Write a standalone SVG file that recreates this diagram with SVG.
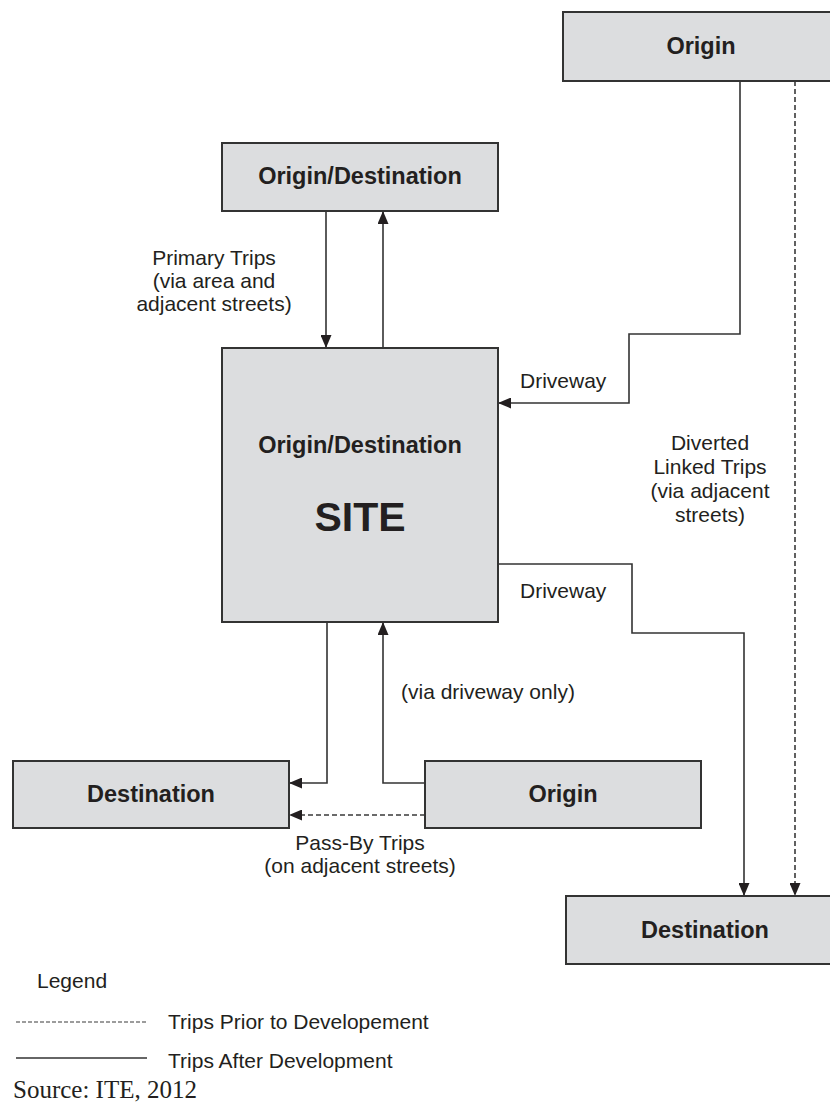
<svg xmlns="http://www.w3.org/2000/svg" width="830" height="1105" viewBox="0 0 830 1105">
  <style>
    .box { fill: #dcdddf; stroke: #333333; stroke-width: 2; }
    .lbl { font-family: "Liberation Sans", Arial, sans-serif; font-weight: bold; font-size: 23.5px; fill: #231f20; text-anchor: middle; }
    .txt { font-family: "Liberation Sans", Arial, sans-serif; font-size: 21px; fill: #231f20; }
    .mid { text-anchor: middle; }
    .solid { fill: none; stroke: #333333; stroke-width: 1.6; }
    .dash { fill: none; stroke: #3a3a3a; stroke-width: 1.6; stroke-dasharray: 5 3; }
  </style>
  <defs>
    <marker id="arrow" viewBox="0 0 13 11" refX="13" refY="5.5" markerWidth="13" markerHeight="11" markerUnits="userSpaceOnUse" orient="auto">
      <path d="M0,0 L13,5.5 L0,11 z" fill="#231f20"/>
    </marker>
  </defs>

  <rect width="830" height="1105" fill="#ffffff"/>

  <!-- connectors -->
  <g id="connectors">
    <!-- primary trips -->
    <line class="solid" x1="326" y1="211" x2="326" y2="348" marker-end="url(#arrow)"/>
    <line class="solid" x1="383" y1="348" x2="383" y2="211" marker-end="url(#arrow)"/>
    <!-- diverted linked trips, after development -->
    <polyline class="solid" points="740,81 740,334 629,334 629,403 498,403" marker-end="url(#arrow)"/>
    <polyline class="solid" points="498,564 632,564 632,633 744,633 744,896" marker-end="url(#arrow)"/>
    <!-- diverted linked trips, prior to development -->
    <line class="dash" x1="795" y1="81" x2="795" y2="896" marker-end="url(#arrow)"/>
    <!-- pass-by trips -->
    <polyline class="solid" points="327,622 327,783 289,783" marker-end="url(#arrow)"/>
    <polyline class="solid" points="425,783 383,783 383,622" marker-end="url(#arrow)"/>
    <line class="dash" x1="425" y1="815" x2="289" y2="815" marker-end="url(#arrow)"/>
  </g>

  <!-- nodes -->
  <g id="origin-top">
    <rect class="box" x="563" y="12" width="280" height="69"/>
    <text class="lbl" x="701" y="54">Origin</text>
  </g>
  <g id="od-top">
    <rect class="box" x="222" y="143" width="276" height="68"/>
    <text class="lbl" x="360" y="184">Origin/Destination</text>
  </g>
  <g id="site">
    <rect class="box" x="222" y="348" width="276" height="274"/>
    <text class="lbl" x="360" y="453">Origin/Destination</text>
    <text class="lbl" x="360" y="531" style="font-size:41px">SITE</text>
  </g>
  <g id="destination-left">
    <rect class="box" x="13" y="761" width="276" height="67"/>
    <text class="lbl" x="151" y="802">Destination</text>
  </g>
  <g id="origin-bottom">
    <rect class="box" x="425" y="761" width="276" height="67"/>
    <text class="lbl" x="563" y="802">Origin</text>
  </g>
  <g id="destination-right">
    <rect class="box" x="566" y="896" width="280" height="68"/>
    <text class="lbl" x="705" y="938">Destination</text>
  </g>

  <!-- connector labels -->
  <g id="labels">
    <text class="txt mid" x="214" y="265">Primary Trips</text>
    <text class="txt mid" x="214" y="288">(via area and</text>
    <text class="txt mid" x="214" y="311">adjacent streets)</text>

    <text class="txt" x="520" y="388">Driveway</text>
    <text class="txt" x="520" y="598">Driveway</text>

    <text class="txt mid" x="710" y="450">Diverted</text>
    <text class="txt mid" x="710" y="474">Linked Trips</text>
    <text class="txt mid" x="710" y="498">(via adjacent</text>
    <text class="txt mid" x="710" y="522">streets)</text>

    <text class="txt" x="401" y="699">(via driveway only)</text>

    <text class="txt mid" x="360" y="850">Pass-By Trips</text>
    <text class="txt mid" x="360" y="873">(on adjacent streets)</text>
  </g>

  <!-- legend -->
  <g id="legend">
    <text class="txt" x="37" y="988">Legend</text>
    <line class="dash" x1="16" y1="1022" x2="147" y2="1022" style="stroke-width:1.2;stroke-dasharray:4 2"/>
    <text class="txt" x="168" y="1029">Trips Prior to Developement</text>
    <line class="solid" x1="16" y1="1058" x2="147" y2="1058"/>
    <text class="txt" x="168" y="1068">Trips After Development</text>
    <text x="13" y="1098" style="font-family:'Liberation Serif','Times New Roman',serif;font-size:25px;fill:#231f20">Source: ITE, 2012</text>
  </g>
</svg>
